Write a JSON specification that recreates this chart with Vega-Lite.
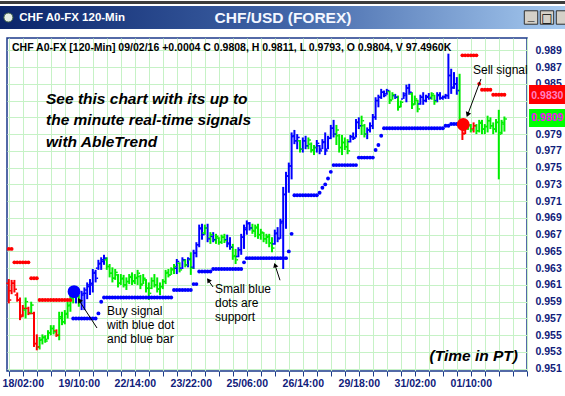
{
"$schema": "https://vega.github.io/schema/vega-lite/v6.json",
"background": "#ffffff",
"padding": {"top": 0, "left": 0, "right": 0, "bottom": 0},
"config": {"view": {"stroke": null}, "font": "Liberation Sans"},
"datasets": {
"bars": [
{"i":-4,"s":"r","o":0.9612,"h":0.9617,"l":0.9588,"c":0.9592},
{"i":-3,"s":"r","o":0.9603,"h":0.9616,"l":0.9599,"c":0.9612},
{"i":-2,"s":"r","o":0.9612,"h":0.9616,"l":0.9601,"c":0.9605},
{"i":-1,"s":"r","o":0.9598,"h":0.9601,"l":0.959,"c":0.9592},
{"i":0,"s":"r","o":0.9592,"h":0.9595,"l":0.9568,"c":0.9572},
{"i":1,"s":"r","o":0.9574,"h":0.9586,"l":0.9572,"c":0.9582},
{"i":2,"s":"g","o":0.958,"h":0.9595,"l":0.957,"c":0.959},
{"i":3,"s":"r","o":0.9582,"h":0.9584,"l":0.9574,"c":0.9576},
{"i":4,"s":"g","o":0.9577,"h":0.959,"l":0.9575,"c":0.9586},
{"i":5,"s":"r","o":0.9576,"h":0.9578,"l":0.9536,"c":0.954},
{"i":6,"s":"r","o":0.954,"h":0.9551,"l":0.9532,"c":0.9536},
{"i":7,"s":"g","o":0.9536,"h":0.9548,"l":0.9533,"c":0.9545},
{"i":8,"s":"g","o":0.9544,"h":0.9551,"l":0.9539,"c":0.9548},
{"i":9,"s":"g","o":0.9547,"h":0.955,"l":0.9541,"c":0.9543},
{"i":10,"s":"g","o":0.9545,"h":0.9556,"l":0.9545,"c":0.9553},
{"i":11,"s":"g","o":0.9553,"h":0.9562,"l":0.955,"c":0.9558},
{"i":12,"s":"g","o":0.9558,"h":0.9562,"l":0.9551,"c":0.9554},
{"i":13,"s":"r","o":0.9555,"h":0.9557,"l":0.9548,"c":0.955},
{"i":14,"s":"g","o":0.955,"h":0.9578,"l":0.9544,"c":0.9572},
{"i":15,"s":"g","o":0.957,"h":0.9578,"l":0.9562,"c":0.9566},
{"i":16,"s":"g","o":0.9566,"h":0.958,"l":0.9563,"c":0.9576},
{"i":17,"s":"g","o":0.9575,"h":0.959,"l":0.957,"c":0.9586},
{"i":18,"s":"g","o":0.9585,"h":0.9598,"l":0.9578,"c":0.9594},
{"i":19,"s":"g","o":0.9594,"h":0.9607,"l":0.9588,"c":0.96},
{"i":20,"s":"b","o":0.9598,"h":0.9603,"l":0.9588,"c":0.9601},
{"i":21,"s":"g","o":0.9596,"h":0.9598,"l":0.9584,"c":0.959},
{"i":22,"s":"b","o":0.959,"h":0.9603,"l":0.958,"c":0.96},
{"i":23,"s":"b","o":0.9598,"h":0.9607,"l":0.958,"c":0.9604},
{"i":24,"s":"b","o":0.96,"h":0.9613,"l":0.9593,"c":0.961},
{"i":25,"s":"b","o":0.9608,"h":0.9617,"l":0.9598,"c":0.9612},
{"i":26,"s":"b","o":0.961,"h":0.9629,"l":0.9601,"c":0.9625},
{"i":27,"s":"b","o":0.9624,"h":0.9628,"l":0.9613,"c":0.9618},
{"i":28,"s":"b","o":0.963,"h":0.964,"l":0.9628,"c":0.9636},
{"i":29,"s":"b","o":0.9635,"h":0.9643,"l":0.9628,"c":0.964},
{"i":30,"s":"b","o":0.9638,"h":0.9646,"l":0.9634,"c":0.9642},
{"i":31,"s":"g","o":0.964,"h":0.9643,"l":0.9628,"c":0.9632},
{"i":32,"s":"g","o":0.9632,"h":0.9635,"l":0.9619,"c":0.9624},
{"i":33,"s":"g","o":0.9624,"h":0.9631,"l":0.9613,"c":0.9618},
{"i":34,"s":"g","o":0.9618,"h":0.9629,"l":0.9616,"c":0.9625},
{"i":35,"s":"g","o":0.9622,"h":0.9623,"l":0.9607,"c":0.9612},
{"i":36,"s":"g","o":0.9612,"h":0.9623,"l":0.961,"c":0.9618},
{"i":37,"s":"g","o":0.9617,"h":0.9622,"l":0.9607,"c":0.961},
{"i":38,"s":"g","o":0.961,"h":0.9619,"l":0.9604,"c":0.9614},
{"i":39,"s":"g","o":0.9614,"h":0.9623,"l":0.9611,"c":0.962},
{"i":40,"s":"g","o":0.9619,"h":0.9625,"l":0.961,"c":0.9614},
{"i":41,"s":"g","o":0.9615,"h":0.9623,"l":0.9611,"c":0.9619},
{"i":42,"s":"g","o":0.9618,"h":0.9628,"l":0.961,"c":0.9624},
{"i":43,"s":"g","o":0.962,"h":0.9622,"l":0.9605,"c":0.961},
{"i":44,"s":"g","o":0.9611,"h":0.9623,"l":0.9611,"c":0.9618},
{"i":45,"s":"g","o":0.9616,"h":0.9617,"l":0.9601,"c":0.9606},
{"i":46,"s":"g","o":0.9606,"h":0.9613,"l":0.9592,"c":0.96},
{"i":47,"s":"g","o":0.9606,"h":0.9619,"l":0.9605,"c":0.9615},
{"i":48,"s":"g","o":0.9615,"h":0.9623,"l":0.9607,"c":0.961},
{"i":49,"s":"g","o":0.961,"h":0.9619,"l":0.9601,"c":0.9605},
{"i":50,"s":"g","o":0.9605,"h":0.9613,"l":0.9598,"c":0.9608},
{"i":51,"s":"g","o":0.9608,"h":0.9617,"l":0.9605,"c":0.9614},
{"i":52,"s":"g","o":0.9614,"h":0.9628,"l":0.9611,"c":0.9625},
{"i":53,"s":"g","o":0.9624,"h":0.9629,"l":0.9619,"c":0.9622},
{"i":54,"s":"g","o":0.9622,"h":0.9631,"l":0.9622,"c":0.9629},
{"i":55,"s":"g","o":0.9628,"h":0.9635,"l":0.9623,"c":0.9632},
{"i":56,"s":"b","o":0.963,"h":0.9641,"l":0.9623,"c":0.9638},
{"i":57,"s":"g","o":0.9636,"h":0.9637,"l":0.9625,"c":0.9628},
{"i":58,"s":"b","o":0.963,"h":0.9643,"l":0.9629,"c":0.964},
{"i":59,"s":"g","o":0.9639,"h":0.9641,"l":0.9631,"c":0.9634},
{"i":60,"s":"b","o":0.9634,"h":0.9643,"l":0.9631,"c":0.9641},
{"i":61,"s":"g","o":0.964,"h":0.9649,"l":0.9622,"c":0.963},
{"i":62,"s":"b","o":0.9631,"h":0.9652,"l":0.9629,"c":0.9648},
{"i":63,"s":"b","o":0.9648,"h":0.9661,"l":0.9643,"c":0.9658},
{"i":64,"s":"b","o":0.9658,"h":0.9682,"l":0.9655,"c":0.9678},
{"i":65,"s":"b","o":0.9677,"h":0.9683,"l":0.9664,"c":0.967},
{"i":66,"s":"g","o":0.9672,"h":0.9682,"l":0.967,"c":0.9678},
{"i":67,"s":"b","o":0.9678,"h":0.9683,"l":0.9661,"c":0.9665},
{"i":68,"s":"g","o":0.9666,"h":0.9673,"l":0.9659,"c":0.967},
{"i":69,"s":"b","o":0.9668,"h":0.9673,"l":0.9661,"c":0.9664},
{"i":70,"s":"g","o":0.9664,"h":0.9671,"l":0.9659,"c":0.9668},
{"i":71,"s":"g","o":0.9666,"h":0.9667,"l":0.9658,"c":0.9661},
{"i":72,"s":"g","o":0.9661,"h":0.967,"l":0.9659,"c":0.9667},
{"i":73,"s":"g","o":0.9667,"h":0.9671,"l":0.966,"c":0.9663},
{"i":74,"s":"b","o":0.9664,"h":0.967,"l":0.9655,"c":0.9659},
{"i":75,"s":"b","o":0.966,"h":0.9667,"l":0.9652,"c":0.9655},
{"i":76,"s":"g","o":0.9655,"h":0.9659,"l":0.964,"c":0.9645},
{"i":77,"s":"g","o":0.9644,"h":0.9653,"l":0.9635,"c":0.964},
{"i":78,"s":"b","o":0.9644,"h":0.9655,"l":0.9643,"c":0.9652},
{"i":79,"s":"b","o":0.9652,"h":0.9671,"l":0.9646,"c":0.9667},
{"i":80,"s":"b","o":0.9667,"h":0.9682,"l":0.9653,"c":0.9678},
{"i":81,"s":"b","o":0.9676,"h":0.9687,"l":0.967,"c":0.9684},
{"i":82,"s":"b","o":0.9683,"h":0.9685,"l":0.9675,"c":0.9678},
{"i":83,"s":"g","o":0.9678,"h":0.9683,"l":0.9671,"c":0.9674},
{"i":84,"s":"g","o":0.9675,"h":0.9682,"l":0.9667,"c":0.9679},
{"i":85,"s":"g","o":0.9678,"h":0.9683,"l":0.9665,"c":0.967},
{"i":86,"s":"g","o":0.967,"h":0.9677,"l":0.9664,"c":0.9673},
{"i":87,"s":"g","o":0.9672,"h":0.9673,"l":0.9661,"c":0.9665},
{"i":88,"s":"g","o":0.9665,"h":0.9671,"l":0.9659,"c":0.9668},
{"i":89,"s":"g","o":0.9667,"h":0.9671,"l":0.9655,"c":0.966},
{"i":90,"s":"g","o":0.966,"h":0.9667,"l":0.9649,"c":0.9654},
{"i":91,"s":"b","o":0.9659,"h":0.9676,"l":0.9658,"c":0.9672},
{"i":92,"s":"b","o":0.9671,"h":0.9679,"l":0.9661,"c":0.9665},
{"i":93,"s":"b","o":0.9666,"h":0.9689,"l":0.9665,"c":0.9686},
{"i":94,"s":"b","o":0.9684,"h":0.9727,"l":0.9629,"c":0.9718},
{"i":95,"s":"b","o":0.9718,"h":0.9745,"l":0.9677,"c":0.974},
{"i":96,"s":"b","o":0.974,"h":0.9756,"l":0.972,"c":0.9752},
{"i":97,"s":"b","o":0.9752,"h":0.9792,"l":0.9736,"c":0.9788},
{"i":98,"s":"b","o":0.9787,"h":0.9795,"l":0.9778,"c":0.9782},
{"i":99,"s":"b","o":0.9782,"h":0.979,"l":0.9772,"c":0.9786},
{"i":100,"s":"g","o":0.9782,"h":0.9783,"l":0.9768,"c":0.9772},
{"i":101,"s":"b","o":0.9772,"h":0.9786,"l":0.9768,"c":0.9782},
{"i":102,"s":"b","o":0.9782,"h":0.9788,"l":0.9772,"c":0.9776},
{"i":103,"s":"g","o":0.9776,"h":0.9786,"l":0.9772,"c":0.9783},
{"i":104,"s":"g","o":0.9778,"h":0.978,"l":0.9768,"c":0.9771},
{"i":105,"s":"g","o":0.9771,"h":0.9777,"l":0.9765,"c":0.9774},
{"i":106,"s":"b","o":0.9774,"h":0.9783,"l":0.9768,"c":0.9779},
{"i":107,"s":"b","o":0.9776,"h":0.9777,"l":0.9766,"c":0.977},
{"i":108,"s":"b","o":0.9772,"h":0.9784,"l":0.9772,"c":0.9781},
{"i":109,"s":"b","o":0.978,"h":0.9792,"l":0.9765,"c":0.977},
{"i":110,"s":"b","o":0.9772,"h":0.9788,"l":0.9772,"c":0.9785},
{"i":111,"s":"b","o":0.9785,"h":0.9801,"l":0.9784,"c":0.9797},
{"i":112,"s":"b","o":0.9797,"h":0.9807,"l":0.9786,"c":0.979},
{"i":113,"s":"g","o":0.979,"h":0.9801,"l":0.9777,"c":0.9795},
{"i":114,"s":"g","o":0.9788,"h":0.979,"l":0.9768,"c":0.9774},
{"i":115,"s":"g","o":0.9774,"h":0.9789,"l":0.9765,"c":0.978},
{"i":116,"s":"g","o":0.978,"h":0.9786,"l":0.9771,"c":0.9775},
{"i":117,"s":"g","o":0.9775,"h":0.9784,"l":0.9766,"c":0.977},
{"i":118,"s":"b","o":0.9781,"h":0.9789,"l":0.978,"c":0.9787},
{"i":119,"s":"b","o":0.9787,"h":0.9792,"l":0.9783,"c":0.9785},
{"i":120,"s":"b","o":0.9786,"h":0.9808,"l":0.9786,"c":0.9804},
{"i":121,"s":"b","o":0.9804,"h":0.981,"l":0.9796,"c":0.98},
{"i":122,"s":"g","o":0.98,"h":0.9812,"l":0.9789,"c":0.9806},
{"i":123,"s":"g","o":0.98,"h":0.9802,"l":0.9786,"c":0.979},
{"i":124,"s":"b","o":0.979,"h":0.9798,"l":0.9784,"c":0.9795},
{"i":125,"s":"b","o":0.9795,"h":0.9804,"l":0.9792,"c":0.98},
{"i":126,"s":"b","o":0.98,"h":0.9814,"l":0.9796,"c":0.981},
{"i":127,"s":"b","o":0.981,"h":0.9834,"l":0.9807,"c":0.983},
{"i":128,"s":"b","o":0.983,"h":0.9837,"l":0.9822,"c":0.9834},
{"i":129,"s":"b","o":0.9834,"h":0.9844,"l":0.9832,"c":0.984},
{"i":130,"s":"b","o":0.984,"h":0.9842,"l":0.9834,"c":0.9836},
{"i":131,"s":"b","o":0.9838,"h":0.9844,"l":0.9837,"c":0.9842},
{"i":132,"s":"g","o":0.9841,"h":0.9842,"l":0.9826,"c":0.983},
{"i":133,"s":"g","o":0.9831,"h":0.984,"l":0.9831,"c":0.9837},
{"i":134,"s":"b","o":0.9836,"h":0.9838,"l":0.9832,"c":0.9834},
{"i":135,"s":"g","o":0.9834,"h":0.9836,"l":0.9818,"c":0.9822},
{"i":136,"s":"g","o":0.9823,"h":0.983,"l":0.9822,"c":0.9828},
{"i":137,"s":"b","o":0.9832,"h":0.984,"l":0.9832,"c":0.9838},
{"i":138,"s":"b","o":0.9836,"h":0.9849,"l":0.9828,"c":0.9845},
{"i":139,"s":"b","o":0.9845,"h":0.985,"l":0.9837,"c":0.984},
{"i":140,"s":"g","o":0.9838,"h":0.984,"l":0.982,"c":0.9825},
{"i":141,"s":"g","o":0.9826,"h":0.9836,"l":0.9825,"c":0.9832},
{"i":142,"s":"g","o":0.983,"h":0.9831,"l":0.9816,"c":0.982},
{"i":143,"s":"b","o":0.9826,"h":0.9837,"l":0.9825,"c":0.9834},
{"i":144,"s":"b","o":0.9834,"h":0.984,"l":0.9825,"c":0.983},
{"i":145,"s":"b","o":0.983,"h":0.9837,"l":0.9828,"c":0.9835},
{"i":146,"s":"b","o":0.9834,"h":0.9839,"l":0.9831,"c":0.9833},
{"i":147,"s":"g","o":0.9834,"h":0.984,"l":0.9831,"c":0.9838},
{"i":148,"s":"g","o":0.9836,"h":0.9837,"l":0.9825,"c":0.9829},
{"i":149,"s":"b","o":0.983,"h":0.984,"l":0.9828,"c":0.9837},
{"i":150,"s":"b","o":0.9836,"h":0.984,"l":0.9831,"c":0.9833},
{"i":151,"s":"b","o":0.9833,"h":0.9836,"l":0.9831,"c":0.9835},
{"i":152,"s":"b","o":0.9834,"h":0.9838,"l":0.9832,"c":0.9836},
{"i":153,"s":"b","o":0.9836,"h":0.9886,"l":0.9832,"c":0.986},
{"i":154,"s":"b","o":0.986,"h":0.9868,"l":0.9838,"c":0.9845},
{"i":155,"s":"b","o":0.9846,"h":0.9864,"l":0.9844,"c":0.985},
{"i":156,"s":"b","o":0.985,"h":0.9858,"l":0.9837,"c":0.9842},
{"i":157,"s":"g","o":0.9842,"h":0.9862,"l":0.9802,"c":0.9806},
{"i":158,"s":"r","o":0.9796,"h":0.9798,"l":0.9783,"c":0.979},
{"i":159,"s":"r","o":0.9791,"h":0.9801,"l":0.979,"c":0.9798},
{"i":160,"s":"g","o":0.9798,"h":0.9804,"l":0.9795,"c":0.9801},
{"i":161,"s":"g","o":0.98,"h":0.9802,"l":0.9792,"c":0.9795},
{"i":162,"s":"r","o":0.9796,"h":0.9804,"l":0.9792,"c":0.98},
{"i":163,"s":"g","o":0.98,"h":0.9802,"l":0.979,"c":0.9794},
{"i":164,"s":"g","o":0.9794,"h":0.9807,"l":0.9792,"c":0.9804},
{"i":165,"s":"g","o":0.9803,"h":0.9807,"l":0.979,"c":0.9796},
{"i":166,"s":"g","o":0.9796,"h":0.9802,"l":0.979,"c":0.9799},
{"i":167,"s":"g","o":0.9799,"h":0.9812,"l":0.9792,"c":0.9806},
{"i":168,"s":"g","o":0.9806,"h":0.981,"l":0.9796,"c":0.98},
{"i":169,"s":"g","o":0.98,"h":0.9804,"l":0.979,"c":0.9796},
{"i":170,"s":"g","o":0.9796,"h":0.9808,"l":0.9792,"c":0.9804},
{"i":171,"s":"g","o":0.9804,"h":0.9819,"l":0.9736,"c":0.979},
{"i":172,"s":"g","o":0.9792,"h":0.9807,"l":0.979,"c":0.9802},
{"i":173,"s":"g","o":0.9804,"h":0.9811,"l":0.9793,"c":0.9808}
],
"dots": [
{"i":-4,"p":0.9653,"s":"r"},{"i":-3,"p":0.9653,"s":"r"},
{"i":-2,"p":0.9637,"s":"r"},{"i":-1,"p":0.9637,"s":"r"},{"i":0,"p":0.9637,"s":"r"},{"i":1,"p":0.9637,"s":"r"},{"i":2,"p":0.9637,"s":"r"},{"i":3,"p":0.9637,"s":"r"},
{"i":4,"p":0.9618,"s":"r"},{"i":5,"p":0.9618,"s":"r"},{"i":6,"p":0.9618,"s":"r"},
{"i":7,"p":0.9592,"s":"r"},{"i":8,"p":0.9592,"s":"r"},{"i":9,"p":0.9592,"s":"r"},{"i":10,"p":0.9592,"s":"r"},{"i":11,"p":0.9592,"s":"r"},{"i":12,"p":0.9592,"s":"r"},{"i":13,"p":0.9592,"s":"r"},{"i":14,"p":0.9592,"s":"r"},{"i":15,"p":0.9592,"s":"r"},{"i":16,"p":0.9592,"s":"r"},{"i":17,"p":0.9592,"s":"r"},{"i":18,"p":0.9592,"s":"r"},
{"i":158,"p":0.9884,"s":"r"},{"i":159,"p":0.9884,"s":"r"},{"i":160,"p":0.9884,"s":"r"},{"i":161,"p":0.9884,"s":"r"},{"i":162,"p":0.9884,"s":"r"},{"i":163,"p":0.9884,"s":"r"},
{"i":164,"p":0.985,"s":"r"},
{"i":165,"p":0.9843,"s":"r"},{"i":166,"p":0.9843,"s":"r"},{"i":167,"p":0.9843,"s":"r"},{"i":168,"p":0.9843,"s":"r"},
{"i":169,"p":0.9837,"s":"r"},{"i":170,"p":0.9837,"s":"r"},{"i":171,"p":0.9837,"s":"r"},{"i":172,"p":0.9837,"s":"r"},{"i":173,"p":0.9837,"s":"r"},
{"i":19,"p":0.957,"s":"b"},{"i":20,"p":0.957,"s":"b"},{"i":21,"p":0.957,"s":"b"},{"i":22,"p":0.957,"s":"b"},{"i":23,"p":0.957,"s":"b"},{"i":24,"p":0.957,"s":"b"},{"i":25,"p":0.957,"s":"b"},{"i":26,"p":0.957,"s":"b"},{"i":27,"p":0.957,"s":"b"},
{"i":28,"p":0.9576,"s":"b"},{"i":29,"p":0.959,"s":"b"},
{"i":30,"p":0.9595,"s":"b"},{"i":31,"p":0.9595,"s":"b"},{"i":32,"p":0.9595,"s":"b"},{"i":33,"p":0.9595,"s":"b"},{"i":34,"p":0.9595,"s":"b"},{"i":35,"p":0.9595,"s":"b"},{"i":36,"p":0.9595,"s":"b"},{"i":37,"p":0.9595,"s":"b"},{"i":38,"p":0.9595,"s":"b"},{"i":39,"p":0.9595,"s":"b"},{"i":40,"p":0.9595,"s":"b"},{"i":41,"p":0.9595,"s":"b"},{"i":42,"p":0.9595,"s":"b"},{"i":43,"p":0.9595,"s":"b"},{"i":44,"p":0.9595,"s":"b"},{"i":45,"p":0.9595,"s":"b"},{"i":46,"p":0.9595,"s":"b"},{"i":47,"p":0.9595,"s":"b"},{"i":48,"p":0.9595,"s":"b"},{"i":49,"p":0.9595,"s":"b"},{"i":50,"p":0.9595,"s":"b"},{"i":51,"p":0.9595,"s":"b"},{"i":52,"p":0.9595,"s":"b"},{"i":53,"p":0.9595,"s":"b"},{"i":54,"p":0.9595,"s":"b"},
{"i":55,"p":0.9604,"s":"b"},{"i":56,"p":0.9604,"s":"b"},{"i":57,"p":0.9604,"s":"b"},{"i":58,"p":0.9604,"s":"b"},{"i":59,"p":0.9604,"s":"b"},{"i":60,"p":0.9604,"s":"b"},{"i":61,"p":0.9604,"s":"b"},
{"i":62,"p":0.9611,"s":"b"},{"i":63,"p":0.9611,"s":"b"},
{"i":64,"p":0.9626,"s":"b"},{"i":65,"p":0.9626,"s":"b"},{"i":66,"p":0.9626,"s":"b"},{"i":67,"p":0.9626,"s":"b"},{"i":68,"p":0.9626,"s":"b"},
{"i":69,"p":0.9629,"s":"b"},{"i":70,"p":0.9629,"s":"b"},{"i":71,"p":0.9629,"s":"b"},{"i":72,"p":0.9629,"s":"b"},{"i":73,"p":0.9629,"s":"b"},{"i":74,"p":0.9629,"s":"b"},{"i":75,"p":0.9629,"s":"b"},{"i":76,"p":0.9629,"s":"b"},{"i":77,"p":0.9629,"s":"b"},{"i":78,"p":0.9629,"s":"b"},{"i":79,"p":0.9629,"s":"b"},
{"i":80,"p":0.9637,"s":"b"},
{"i":81,"p":0.9642,"s":"b"},{"i":82,"p":0.9642,"s":"b"},{"i":83,"p":0.9642,"s":"b"},{"i":84,"p":0.9642,"s":"b"},{"i":85,"p":0.9642,"s":"b"},{"i":86,"p":0.9642,"s":"b"},{"i":87,"p":0.9642,"s":"b"},{"i":88,"p":0.9642,"s":"b"},{"i":89,"p":0.9642,"s":"b"},{"i":90,"p":0.9642,"s":"b"},{"i":91,"p":0.9642,"s":"b"},{"i":92,"p":0.9642,"s":"b"},{"i":93,"p":0.9642,"s":"b"},{"i":94,"p":0.9642,"s":"b"},{"i":95,"p":0.9642,"s":"b"},
{"i":96,"p":0.965,"s":"b"},{"i":97,"p":0.9671,"s":"b"},
{"i":98,"p":0.9717,"s":"b"},{"i":99,"p":0.9717,"s":"b"},{"i":100,"p":0.9717,"s":"b"},{"i":101,"p":0.9717,"s":"b"},{"i":102,"p":0.9717,"s":"b"},{"i":103,"p":0.9717,"s":"b"},{"i":104,"p":0.9717,"s":"b"},{"i":105,"p":0.9717,"s":"b"},{"i":106,"p":0.9717,"s":"b"},
{"i":107,"p":0.972,"s":"b"},{"i":108,"p":0.9726,"s":"b"},{"i":109,"p":0.973,"s":"b"},{"i":110,"p":0.9737,"s":"b"},{"i":111,"p":0.9745,"s":"b"},
{"i":112,"p":0.9753,"s":"b"},{"i":113,"p":0.9753,"s":"b"},{"i":114,"p":0.9753,"s":"b"},{"i":115,"p":0.9753,"s":"b"},{"i":116,"p":0.9753,"s":"b"},{"i":117,"p":0.9753,"s":"b"},{"i":118,"p":0.9753,"s":"b"},{"i":119,"p":0.9753,"s":"b"},{"i":120,"p":0.9753,"s":"b"},
{"i":121,"p":0.9762,"s":"b"},{"i":122,"p":0.9762,"s":"b"},{"i":123,"p":0.9762,"s":"b"},{"i":124,"p":0.9762,"s":"b"},{"i":125,"p":0.9762,"s":"b"},{"i":126,"p":0.9762,"s":"b"},
{"i":127,"p":0.9771,"s":"b"},{"i":128,"p":0.9777,"s":"b"},{"i":129,"p":0.9788,"s":"b"},
{"i":130,"p":0.9797,"s":"b"},{"i":131,"p":0.9797,"s":"b"},{"i":132,"p":0.9797,"s":"b"},{"i":133,"p":0.9797,"s":"b"},{"i":134,"p":0.9797,"s":"b"},{"i":135,"p":0.9797,"s":"b"},{"i":136,"p":0.9797,"s":"b"},{"i":137,"p":0.9797,"s":"b"},{"i":138,"p":0.9797,"s":"b"},{"i":139,"p":0.9797,"s":"b"},{"i":140,"p":0.9797,"s":"b"},{"i":141,"p":0.9797,"s":"b"},{"i":142,"p":0.9797,"s":"b"},{"i":143,"p":0.9797,"s":"b"},{"i":144,"p":0.9797,"s":"b"},{"i":145,"p":0.9797,"s":"b"},{"i":146,"p":0.9797,"s":"b"},{"i":147,"p":0.9797,"s":"b"},{"i":148,"p":0.9797,"s":"b"},{"i":149,"p":0.9797,"s":"b"},{"i":150,"p":0.9797,"s":"b"},{"i":151,"p":0.9797,"s":"b"},
{"i":152,"p":0.98,"s":"b"},{"i":153,"p":0.98,"s":"b"},
{"i":154,"p":0.9802,"s":"b"},{"i":155,"p":0.9802,"s":"b"},{"i":156,"p":0.9802,"s":"b"},{"i":157,"p":0.9802,"s":"b"}
],
"signals": [
{"i":19.3,"p":0.9602,"s":"b"},
{"i":158.3,"p":0.98015,"s":"r"}
]
},
"concat": [
{
"width": 558, "height": 23,
"data": {"values": [{}]},
"layer": [
{"mark": {"type": "rect", "clip": false, "color": "#3c3c3c", "opacity": 1},
 "encoding": {"x": {"datum": -0.01254, "type": "quantitative", "scale": {"domain": [0, 1], "nice": false, "zero": false}, "axis": null}, "x2": {"datum": 1.0126}, "y": {"datum": 1.087, "type": "quantitative", "scale": {"domain": [0, 1], "nice": false, "zero": false}, "axis": null}, "y2": {"datum": 1.2174}}},
{"mark": {"type": "rect", "clip": false, "fill": {"gradient": "linear", "x1": 0, "x2": 1, "y1": 0, "y2": 0, "stops": [{"offset": 0, "color": "#0a246a"}, {"offset": 0.5, "color": "#3f63a6"}, {"offset": 1, "color": "#a6caf0"}]}},
 "encoding": {"x": {"datum": -0.01254, "type": "quantitative", "scale": {"domain": [0, 1], "nice": false, "zero": false}, "axis": null}, "x2": {"datum": 1}, "y": {"datum": 0, "type": "quantitative", "scale": {"domain": [0, 1], "nice": false, "zero": false}, "axis": null}, "y2": {"datum": 1}}},
{"mark": {"type": "point", "shape": "circle", "filled": true, "size": 80, "color": "#e6eee6", "stroke": "#4a6a4a", "strokeWidth": 1, "opacity": 1},
 "encoding": {"x": {"datum": 0.0025, "type": "quantitative", "scale": {"domain": [0, 1]}, "axis": null}, "y": {"datum": 0.5, "type": "quantitative", "scale": {"domain": [0, 1]}, "axis": null}}},
{"mark": {"type": "text", "text": "CHF A0-FX 120-Min", "align": "left", "baseline": "middle", "color": "#ffffff", "fontSize": 11.5, "fontWeight": "bold"},
 "encoding": {"x": {"datum": 0.022, "type": "quantitative", "scale": {"domain": [0, 1]}, "axis": null}, "y": {"datum": 0.5, "type": "quantitative", "scale": {"domain": [0, 1]}, "axis": null}}},
{"mark": {"type": "text", "text": "CHF/USD (FOREX)", "align": "center", "baseline": "middle", "color": "#f4f7ff", "fontSize": 15.5, "fontWeight": "bold"},
 "encoding": {"x": {"datum": 0.4946, "type": "quantitative", "scale": {"domain": [0, 1]}, "axis": null}, "y": {"datum": 0.5, "type": "quantitative", "scale": {"domain": [0, 1]}, "axis": null}}},
{"mark": {"type": "point", "shape": "square", "filled": true, "size": 180, "color": "#d4d0c8", "stroke": "#303030", "strokeWidth": 1, "opacity": 1},
 "encoding": {"x": {"datum": 0.9391, "type": "quantitative", "scale": {"domain": [0, 1]}, "axis": null}, "y": {"datum": 0.5, "type": "quantitative", "scale": {"domain": [0, 1]}, "axis": null}}},
{"mark": {"type": "point", "shape": "square", "filled": true, "size": 180, "color": "#d4d0c8", "stroke": "#303030", "strokeWidth": 1, "opacity": 1},
 "encoding": {"x": {"datum": 0.9677, "type": "quantitative", "scale": {"domain": [0, 1]}, "axis": null}, "y": {"datum": 0.5, "type": "quantitative", "scale": {"domain": [0, 1]}, "axis": null}}},
{"mark": {"type": "point", "shape": "square", "filled": true, "size": 180, "color": "#d4d0c8", "stroke": "#303030", "strokeWidth": 1, "opacity": 1},
 "encoding": {"x": {"datum": 0.9964, "type": "quantitative", "scale": {"domain": [0, 1]}, "axis": null}, "y": {"datum": 0.5, "type": "quantitative", "scale": {"domain": [0, 1]}, "axis": null}}},
{"mark": {"type": "text", "text": "_", "align": "center", "baseline": "middle", "color": "#000000", "fontSize": 12, "fontWeight": "bold", "dy": -2},
 "encoding": {"x": {"datum": 0.9391, "type": "quantitative", "scale": {"domain": [0, 1]}, "axis": null}, "y": {"datum": 0.5, "type": "quantitative", "scale": {"domain": [0, 1]}, "axis": null}}},
{"mark": {"type": "text", "text": "□", "align": "center", "baseline": "middle", "color": "#000000", "fontSize": 12, "font": "DejaVu Sans"},
 "encoding": {"x": {"datum": 0.9677, "type": "quantitative", "scale": {"domain": [0, 1]}, "axis": null}, "y": {"datum": 0.5, "type": "quantitative", "scale": {"domain": [0, 1]}, "axis": null}}}
]
},
{
"width": 520, "height": 333,
"view": {"stroke": "#1b3a8a", "strokeWidth": 1.5, "fill": "#ffffff"},
"layer": [
{"data": {"name": "bars"},
 "mark": {"type": "rule", "strokeWidth": 2},
 "encoding": {
  "x": {"field": "i", "type": "quantitative", "scale": {"domain": [-4.643, 181.07], "nice": false, "zero": false},
   "axis": {"values": [-4,1,6,11,16,21,26,31,36,41,46,51,56,61,66,71,76,81,86,91,96,101,106,111,116,121,126,131,136,141,146,151,156,161,166,171,176,181], "tickCount": 200,
    "labelExpr": "(datum.value - 1) % 20 == 0 && datum.value <= 161 ? ['18/02:00','19/10:00','22/14:00','23/22:00','25/06:00','26/14:00','29/18:00','31/02:00','01/10:00'][(datum.value - 1) / 20] : ''",
    "orient": "bottom", "grid": true, "gridColor": "#c6f2c6", "gridWidth": 1, "domain": false, "ticks": true, "tickSize": 5, "tickColor": "#1b3a8a", "tickWidth": 1,
    "labelFont": "Liberation Sans", "labelFontSize": 10.5, "labelFontWeight": "bold", "labelColor": "#10207a", "labelPadding": 2, "title": null, "labelOverlap": false, "labelFlush": false, "labelBound": false}},
  "y": {"field": "l", "type": "quantitative", "scale": {"domain": [0.95073, 0.99047], "nice": false, "zero": false},
   "axis": {"orient": "right", "values": [0.951,0.953,0.955,0.957,0.959,0.961,0.963,0.965,0.967,0.969,0.971,0.973,0.975,0.977,0.979,0.981,0.983,0.985,0.987,0.989], "tickCount": 200,
    "labelExpr": "abs(datum.value - 0.983) < 0.0001 || abs(datum.value - 0.981) < 0.0001 ? '' : format(datum.value, '.3f')",
    "grid": true, "gridColor": "#c6f2c6", "gridWidth": 1, "domain": false, "ticks": false, "labelPadding": 8, "labelAlign": "left",
    "labelFont": "Liberation Sans", "labelFontSize": 10.5, "labelFontWeight": "bold", "labelColor": "#10207a", "title": null, "labelOverlap": false, "labelFlush": false}},
  "y2": {"field": "h"},
  "color": {"field": "s", "type": "nominal", "scale": {"domain": ["r", "g", "b"], "range": ["#ff0000", "#00ee00", "#0000ff"]}, "legend": null}}},
{"data": {"name": "dots"},
 "mark": {"type": "circle", "size": 15, "opacity": 1},
 "encoding": {
  "x": {"field": "i", "type": "quantitative", "scale": {"domain": [-4.643, 181.07], "nice": false, "zero": false}},
  "y": {"field": "p", "type": "quantitative", "scale": {"domain": [0.95073, 0.99047], "nice": false, "zero": false}},
  "color": {"field": "s", "type": "nominal", "scale": {"domain": ["r", "g", "b"], "range": ["#ff0000", "#00ee00", "#0000ff"]}, "legend": null}}},
{"data": {"name": "bars"},
 "mark": {"type": "tick", "orient": "horizontal", "size": 1.8, "thickness": 1.5, "xOffset": -1.6, "opacity": 1},
 "encoding": {
  "x": {"field": "i", "type": "quantitative", "scale": {"domain": [-4.643, 181.07], "nice": false, "zero": false}},
  "y": {"field": "o", "type": "quantitative", "scale": {"domain": [0.95073, 0.99047], "nice": false, "zero": false}},
  "color": {"field": "s", "type": "nominal", "scale": {"domain": ["r", "g", "b"], "range": ["#ff0000", "#00ee00", "#0000ff"]}, "legend": null}}},
{"data": {"name": "bars"},
 "mark": {"type": "tick", "orient": "horizontal", "size": 1.8, "thickness": 1.5, "xOffset": 1.6, "opacity": 1},
 "encoding": {
  "x": {"field": "i", "type": "quantitative", "scale": {"domain": [-4.643, 181.07], "nice": false, "zero": false}},
  "y": {"field": "c", "type": "quantitative", "scale": {"domain": [0.95073, 0.99047], "nice": false, "zero": false}},
  "color": {"field": "s", "type": "nominal", "scale": {"domain": ["r", "g", "b"], "range": ["#ff0000", "#00ee00", "#0000ff"]}, "legend": null}}},
{"data": {"name": "signals"},
 "mark": {"type": "circle", "size": 165, "opacity": 1},
 "encoding": {
  "x": {"field": "i", "type": "quantitative", "scale": {"domain": [-4.643, 181.07], "nice": false, "zero": false}},
  "y": {"field": "p", "type": "quantitative", "scale": {"domain": [0.95073, 0.99047], "nice": false, "zero": false}},
  "color": {"field": "s", "type": "nominal", "scale": {"domain": ["r", "g", "b"], "range": ["#ff0000", "#00ee00", "#0000ff"]}, "legend": null}}},
{"data": {"values": [{}]},
 "mark": {"type": "text", "text": "CHF A0-FX [120-Min] 09/02/16  +0.0004 C 0.9808, H 0.9811, L 0.9793, O 0.9804, V 97.4960K", "align": "left", "baseline": "middle", "fontSize": 10.5, "fontWeight": "bold", "color": "#000000"},
 "encoding": {"x": {"datum": -2.857, "type": "quantitative", "scale": {"domain": [-4.643, 181.07], "nice": false, "zero": false}}, "y": {"datum": 0.98928, "type": "quantitative", "scale": {"domain": [0.95073, 0.99047], "nice": false, "zero": false}}}},
{"data": {"values": [{}]},
 "mark": {"type": "text", "text": ["See this chart with its up to", "the minute real-time signals", "with AbleTrend"], "align": "left", "baseline": "top", "fontSize": 15.5, "fontWeight": "bold", "fontStyle": "italic", "lineHeight": 21.5, "color": "#000000"},
 "encoding": {"x": {"datum": 9.29, "type": "quantitative", "scale": {"domain": [-4.643, 181.07], "nice": false, "zero": false}}, "y": {"datum": 0.98403, "type": "quantitative", "scale": {"domain": [0.95073, 0.99047], "nice": false, "zero": false}}}},
{"data": {"values": [{}]},
 "mark": {"type": "text", "text": ["Buy signal", "with blue dot", "and blue bar"], "align": "left", "baseline": "top", "fontSize": 12, "lineHeight": 13.8, "color": "#000000"},
 "encoding": {"x": {"datum": 31.07, "type": "quantitative", "scale": {"domain": [-4.643, 181.07], "nice": false, "zero": false}}, "y": {"datum": 0.95843, "type": "quantitative", "scale": {"domain": [0.95073, 0.99047], "nice": false, "zero": false}}}},
{"data": {"values": [{}]},
 "mark": {"type": "text", "text": ["Small blue", "dots are", "support"], "align": "left", "baseline": "top", "fontSize": 12, "lineHeight": 14, "color": "#000000"},
 "encoding": {"x": {"datum": 69.64, "type": "quantitative", "scale": {"domain": [-4.643, 181.07], "nice": false, "zero": false}}, "y": {"datum": 0.96106, "type": "quantitative", "scale": {"domain": [0.95073, 0.99047], "nice": false, "zero": false}}}},
{"data": {"values": [{}]},
 "mark": {"type": "text", "text": "Sell signal", "align": "left", "baseline": "middle", "fontSize": 12, "color": "#000000"},
 "encoding": {"x": {"datum": 161.79, "type": "quantitative", "scale": {"domain": [-4.643, 181.07], "nice": false, "zero": false}}, "y": {"datum": 0.98665, "type": "quantitative", "scale": {"domain": [0.95073, 0.99047], "nice": false, "zero": false}}}},
{"data": {"values": [{}]},
 "mark": {"type": "text", "text": "(Time in PT)", "align": "right", "baseline": "middle", "fontSize": 15.5, "fontWeight": "bold", "fontStyle": "italic", "color": "#000000"},
 "encoding": {"x": {"datum": 177.86, "type": "quantitative", "scale": {"domain": [-4.643, 181.07], "nice": false, "zero": false}}, "y": {"datum": 0.95252, "type": "quantitative", "scale": {"domain": [0.95073, 0.99047], "nice": false, "zero": false}}}},
{"data": {"values": [{}]},
 "mark": {"type": "rule", "color": "#000000", "strokeWidth": 1},
 "encoding": {"x": {"datum": 27.5, "type": "quantitative", "scale": {"domain": [-4.643, 181.07], "nice": false, "zero": false}}, "x2": {"datum": 20.9}, "y": {"datum": 0.95586, "type": "quantitative", "scale": {"domain": [0.95073, 0.99047], "nice": false, "zero": false}}, "y2": {"datum": 0.95925}}},
{"data": {"values": [{}]},
 "mark": {"type": "point", "shape": "triangle-up", "filled": true, "color": "#000000", "size": 32, "angle": 328, "opacity": 1},
 "encoding": {"x": {"datum": 21.18, "type": "quantitative", "scale": {"domain": [-4.643, 181.07], "nice": false, "zero": false}}, "y": {"datum": 0.95919, "type": "quantitative", "scale": {"domain": [0.95073, 0.99047], "nice": false, "zero": false}}}},
{"data": {"values": [{}]},
 "mark": {"type": "rule", "color": "#000000", "strokeWidth": 1},
 "encoding": {"x": {"datum": 68.93, "type": "quantitative", "scale": {"domain": [-4.643, 181.07], "nice": false, "zero": false}}, "x2": {"datum": 67.0}, "y": {"datum": 0.96076, "type": "quantitative", "scale": {"domain": [0.95073, 0.99047], "nice": false, "zero": false}}, "y2": {"datum": 0.96165}}},
{"data": {"values": [{}]},
 "mark": {"type": "point", "shape": "triangle-up", "filled": true, "color": "#000000", "size": 28, "angle": 326, "opacity": 1},
 "encoding": {"x": {"datum": 67.29, "type": "quantitative", "scale": {"domain": [-4.643, 181.07], "nice": false, "zero": false}}, "y": {"datum": 0.96158, "type": "quantitative", "scale": {"domain": [0.95073, 0.99047], "nice": false, "zero": false}}}},
{"data": {"values": [{}]},
 "mark": {"type": "rule", "color": "#000000", "strokeWidth": 1},
 "encoding": {"x": {"datum": 92.86, "type": "quantitative", "scale": {"domain": [-4.643, 181.07], "nice": false, "zero": false}}, "x2": {"datum": 91.0}, "y": {"datum": 0.96156, "type": "quantitative", "scale": {"domain": [0.95073, 0.99047], "nice": false, "zero": false}}, "y2": {"datum": 0.96345}}},
{"data": {"values": [{}]},
 "mark": {"type": "point", "shape": "triangle-up", "filled": true, "color": "#000000", "size": 28, "angle": 342, "opacity": 1},
 "encoding": {"x": {"datum": 91.1, "type": "quantitative", "scale": {"domain": [-4.643, 181.07], "nice": false, "zero": false}}, "y": {"datum": 0.96337, "type": "quantitative", "scale": {"domain": [0.95073, 0.99047], "nice": false, "zero": false}}}},
{"data": {"values": [{}]},
 "mark": {"type": "rule", "color": "#000000", "strokeWidth": 1},
 "encoding": {"x": {"datum": 164.64, "type": "quantitative", "scale": {"domain": [-4.643, 181.07], "nice": false, "zero": false}}, "x2": {"datum": 159.8}, "y": {"datum": 0.98558, "type": "quantitative", "scale": {"domain": [0.95073, 0.99047], "nice": false, "zero": false}}, "y2": {"datum": 0.98125}}},
{"data": {"values": [{}]},
 "mark": {"type": "point", "shape": "triangle-up", "filled": true, "color": "#000000", "size": 32, "angle": 201, "opacity": 1},
 "encoding": {"x": {"datum": 159.86, "type": "quantitative", "scale": {"domain": [-4.643, 181.07], "nice": false, "zero": false}}, "y": {"datum": 0.98132, "type": "quantitative", "scale": {"domain": [0.95073, 0.99047], "nice": false, "zero": false}}}},
{"data": {"values": [{}]},
 "mark": {"type": "rect", "color": "#ff0000", "opacity": 1},
 "encoding": {"x": {"datum": 181.79, "type": "quantitative", "scale": {"domain": [-4.643, 181.07], "nice": false, "zero": false}}, "x2": {"datum": 196}, "y": {"datum": 0.98259, "type": "quantitative", "scale": {"domain": [0.95073, 0.99047], "nice": false, "zero": false}}, "y2": {"datum": 0.98486}}},
{"data": {"values": [{}]},
 "mark": {"type": "rect", "color": "#00ff00", "opacity": 1},
 "encoding": {"x": {"datum": 181.79, "type": "quantitative", "scale": {"domain": [-4.643, 181.07], "nice": false, "zero": false}}, "x2": {"datum": 196}, "y": {"datum": 0.97985, "type": "quantitative", "scale": {"domain": [0.95073, 0.99047], "nice": false, "zero": false}}, "y2": {"datum": 0.982}}},
{"data": {"values": [{}]},
 "mark": {"type": "text", "text": "0.9830", "align": "left", "baseline": "middle", "fontSize": 10.5, "fontWeight": "bold", "color": "#ff80c0"},
 "encoding": {"x": {"datum": 182.6, "type": "quantitative", "scale": {"domain": [-4.643, 181.07], "nice": false, "zero": false}}, "y": {"datum": 0.98358, "type": "quantitative", "scale": {"domain": [0.95073, 0.99047], "nice": false, "zero": false}}}},
{"data": {"values": [{}]},
 "mark": {"type": "text", "text": "0.9809", "align": "left", "baseline": "middle", "fontSize": 10.5, "fontWeight": "bold", "color": "#ff00ff"},
 "encoding": {"x": {"datum": 182.6, "type": "quantitative", "scale": {"domain": [-4.643, 181.07], "nice": false, "zero": false}}, "y": {"datum": 0.98092, "type": "quantitative", "scale": {"domain": [0.95073, 0.99047], "nice": false, "zero": false}}}}
]
}
],
"columns": 1,
"spacing": 8,
"bounds": "full"
}
